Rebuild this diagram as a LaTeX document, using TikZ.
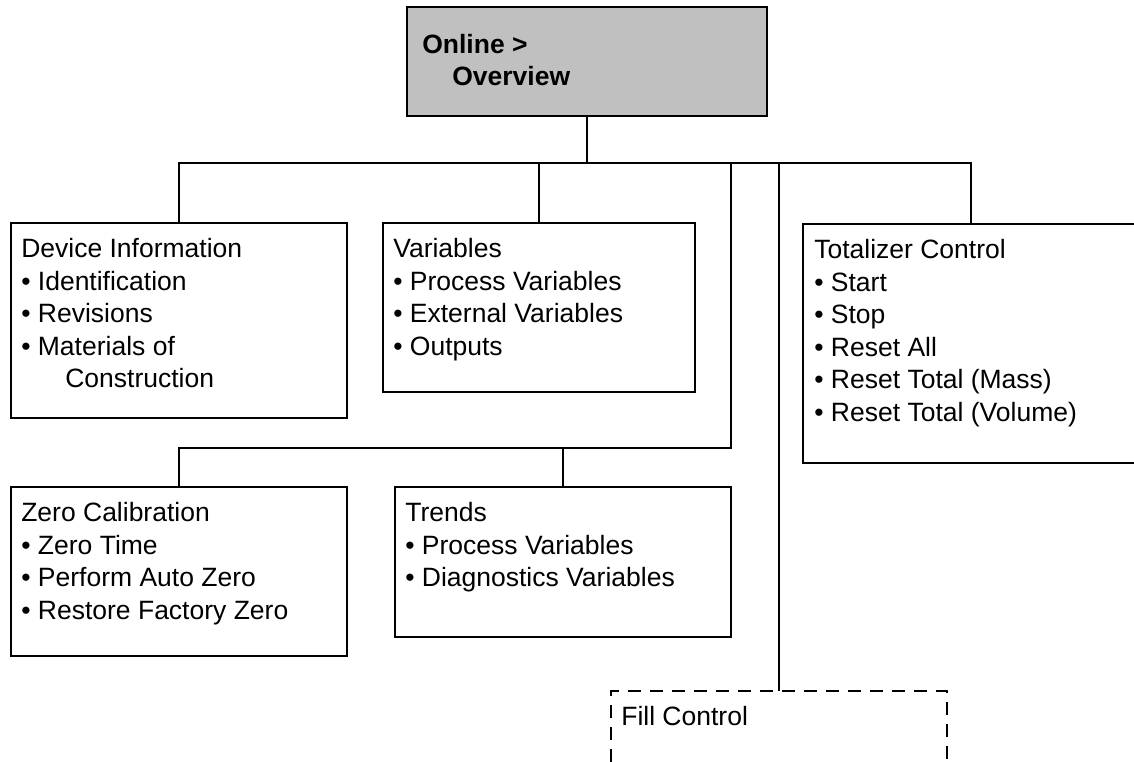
\documentclass[tikz,border=0pt]{standalone}
\usepackage{fontspec}
\setmainfont{Liberation Sans}
\usepackage{tikz}
\usetikzlibrary{positioning}
\usepackage{xcolor}
\definecolor{menugray}{RGB}{192,192,192}

\begin{document}
\begin{tikzpicture}[
  x=1pt, y=-1pt,
  every node/.style={font=\fontsize{26.5}{32.5}\selectfont},
  menubox/.style={draw=black, line width=1.8pt, rectangle, inner sep=0pt},
  rootbox/.style={menubox, fill=menugray},
  optbox/.style={menubox, dash pattern=on 13pt off 9pt},
  txt/.style={anchor=north west, align=left, inner xsep=11pt,
    inner ysep=16pt},
  link/.style={line width=1.8pt, line cap=rect},
]
\useasboundingbox (0,0) rectangle (1134,762);
\clip (0,0) rectangle (1134,762);

\node[rootbox, minimum width=360pt, minimum height=109pt,
  label={[txt, inner xsep=16pt, inner ysep=27.5pt, font=\fontsize{26.5}{32.5}\selectfont\bfseries]north west:{Online >\\\hspace*{30pt}Overview}}]
  at (587, 61.5) (online) {};

\node[menubox, minimum width=336pt, minimum height=195pt,
  label={[txt]north west:{Device Information\\• Identification\\• Revisions\\• Materials of\\\hspace*{44pt}Construction}}]
  at (179, 320.5) (devinfo) {};
\node[menubox, minimum width=312pt, minimum height=169pt,
  label={[txt]north west:{Variables\\• Process Variables\\• External Variables\\• Outputs}}]
  at (539, 307.5) (variables) {};
\node[menubox, minimum width=336pt, minimum height=239pt,
  label={[txt, inner xsep=12pt]north west:{Totalizer Control\\• Start\\• Stop\\• Reset All\\• Reset Total (Mass)\\• Reset Total (Volume)}}]
  at (971, 343.5) (totalizer) {};

\node[menubox, minimum width=336pt, minimum height=169pt,
  label={[txt]north west:{Zero Calibration\\• Zero Time\\• Perform Auto Zero\\• Restore Factory Zero}}]
  at (179, 571.5) (zerocal) {};
\node[menubox, minimum width=336pt, minimum height=150pt,
  label={[txt]north west:{Trends\\• Process Variables\\• Diagnostics Variables}}]
  at (563, 562) (trends) {};

\node[optbox, minimum width=336pt, minimum height=150pt,
  label={[txt]north west:{Fill Control}}]
  at (779, 766) (fillctrl) {};

% junctions of the tree
\coordinate (hub)    at (587, 163);
\coordinate (subhub) at (731, 448);

\draw[link] (online.south)    -- (hub);
\draw[link] (devinfo.north)   |- (hub);
\draw[link] (variables.north) |- (hub);
\draw[link] (totalizer.north) |- (hub);
\draw[link] (fillctrl.north)  |- (hub);
\draw[link] (subhub)          |- (hub);
\draw[link] (zerocal.north)   |- (subhub);
\draw[link] (trends.north)    |- (subhub);
\end{tikzpicture}
\end{document}
